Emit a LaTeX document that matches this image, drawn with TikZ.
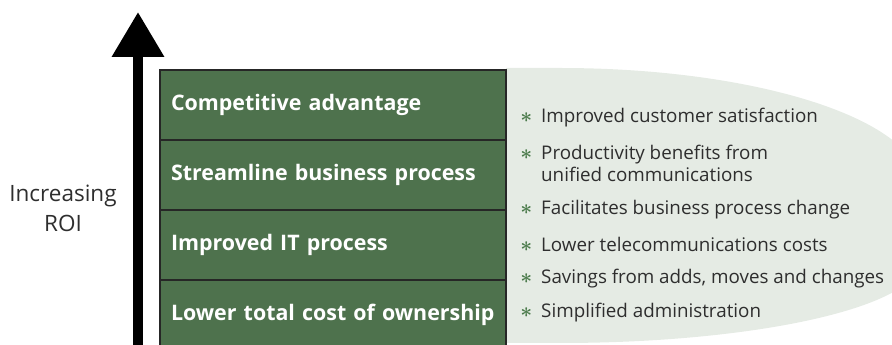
\documentclass[tikz,border=0pt]{standalone}
\usepackage{fontspec}
\setmainfont{Open Sans}
\usetikzlibrary{arrows.meta,positioning}
\definecolor{roigreen}{HTML}{4E724D}
\definecolor{roipale}{HTML}{E5EBE4}
\definecolor{roitext}{HTML}{2E2E2E}
\definecolor{roistar}{HTML}{4A7A4A}
\newcommand{\roibul}{\llap{\textcolor{roistar}{\fontsize{20}{20}\selectfont\boldmath$\ast$}\hspace{9pt}}}
\begin{document}
\begin{tikzpicture}[x=1pt,y=1pt,
  rowbox/.style={draw=black!85, line width=1.2pt, fill=roigreen, text=white,
    text width=324pt, inner xsep=11pt, minimum height=70pt, align=left,
    font=\fontsize{21.4}{24}\selectfont\bfseries},
  benefit/.style={anchor=west, align=left, text=roitext, inner sep=0pt,
    font=\fontsize{18.8}{22}\selectfont}]
\useasboundingbox (0,0) rectangle (892,345);
%\draw[black!10!white] (0,0) grid[step=10] (892,345);

\fill[roipale] (506,277) -- (560,277) arc[start angle=90,end angle=0,x radius=360,y radius=117]
  -- (920,84) arc[start angle=0,end angle=-90,x radius=360,y radius=82] -- (506,2) -- cycle;

\foreach \nm/\txt [count=\i from 0] in {cost/Lower total cost of ownership,
  itproc/Improved IT process, streamline/Streamline business process,
  compadv/Competitive advantage}{
\node[rowbox] (\nm) at (333,{30+70*\i}) {\txt};}

\coordinate (roibase) at (138,-5);
\coordinate (roitip) at (138,333);
\draw[line width=10pt, -{Triangle[width=50pt,length=45pt]}] (roibase) -- (roitip);
\node[align=center, text=roitext, font=\fontsize{22.5}{30}\selectfont] (roilabel) at (63,137) {Increasing\\ROI};

\node[benefit] (custsat) at (541,227) {\roibul Improved customer satisfaction};
\node[benefit] (produc) at (541,182) {\roibul Productivity benefits from\\unified communications};
\node[benefit] (facil) at (541,135) {\roibul Facilitates business process change};
\node[benefit] (telecom) at (541,101) {\roibul Lower telecommunications costs};
\node[benefit] (savings) at (541,66) {\roibul Savings from adds, moves and changes};
\node[benefit] (admin) at (541,32) {\roibul Simplified administration};
\end{tikzpicture}
\end{document}
